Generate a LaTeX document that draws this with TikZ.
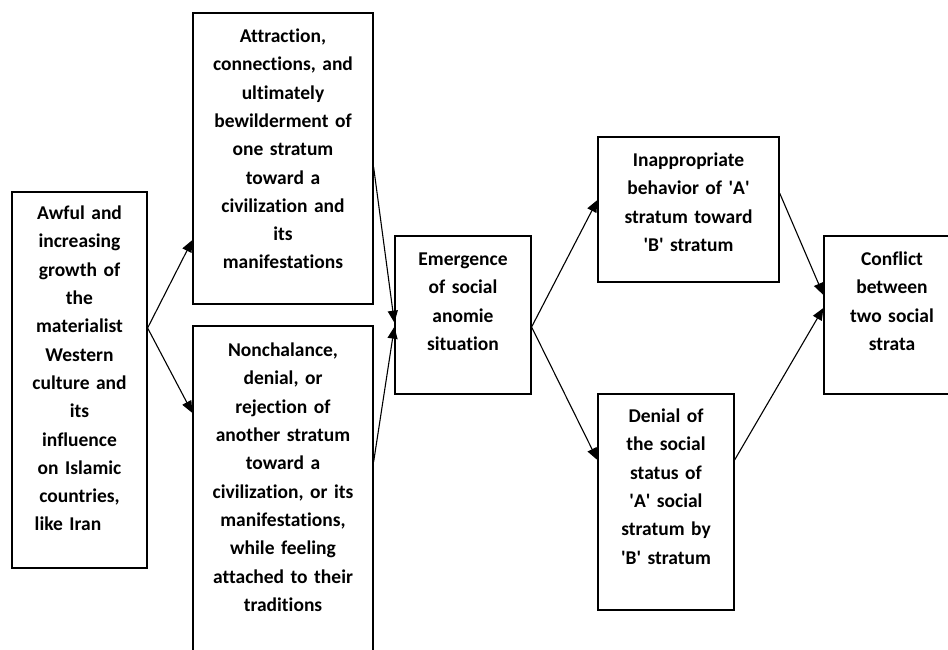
\documentclass[tikz,border=0pt]{standalone}
\usepackage{fontspec}
\setmainfont{Carlito}[Ligatures={TeX,NoCommon}]
\usetikzlibrary{arrows.meta}
\begin{document}
\begin{tikzpicture}[x=1pt,y=1pt,
  box/.style={draw, line width=1.2pt, inner sep=0pt},
  txt/.style={anchor=north, inner sep=0pt, align=center,
    font=\fontsize{19.5pt}{28.3pt}\selectfont\bfseries},
  arr/.style={line width=1.1pt, -{Triangle[length=12pt,width=10pt]}}]
\useasboundingbox (0,0) rectangle (948,650);
\clip (0,0) rectangle (948,650);
\fill[white] (0,0) rectangle (948,650);
% boxes
\node[box, minimum width=135pt, minimum height=376pt] (b1) at (79.5,270) {};
\node[box, minimum width=180pt, minimum height=291pt] (b2) at (283,491.5) {};
\node[box, minimum width=180pt, minimum height=334pt] (b3) at (283,157) {};
\node[box, minimum width=136pt, minimum height=158pt] (b4) at (463,335) {};
\node[box, minimum width=181pt, minimum height=145pt] (b5) at (688.5,440.5) {};
\node[box, minimum width=136pt, minimum height=216pt] (b6) at (666,148) {};
\node[box, minimum width=136pt, minimum height=158pt] (b7) at (892,335) {};
% texts
\node[txt, text width=135pt] (t1) at ([yshift=-8.2pt]b1.north)
  {\strut Awful and\\increasing\\growth of\\the\\materialist\\Western\\culture and\\its\\influence\\on Islamic\\countries,\\like Iran\rule{23pt}{0pt}};
\node[txt, text width=180pt] (t2) at ([yshift=-10.2pt]b2.north)
  {\strut Attraction,\\connections, and\\ultimately\\bewilderment of\\one stratum\\toward a\\civilization and\\its\\manifestations};
\node[txt, text width=180pt] (t3) at ([yshift=-11.2pt]b3.north)
  {\strut Nonchalance,\\denial, or\\rejection of\\another stratum\\toward a\\civilization, or its\\manifestations,\\while feeling\\attached to their\\traditions};
\node[txt, text width=136pt] (t4) at ([yshift=-10.2pt]b4.north)
  {\strut Emergence\\of social\\anomie\\situation};
\node[txt, text width=181pt] (t5) at ([yshift=-10.2pt]b5.north)
  {\strut Inappropriate\\behavior of \textquotesingle A\textquotesingle\\stratum toward\\\textquotesingle B\textquotesingle\ stratum};
\node[txt, text width=136pt] (t6) at ([yshift=-9.2pt]b6.north)
  {\strut Denial of\\the social\\status of\\\textquotesingle A\textquotesingle\ social\\stratum by\\\textquotesingle B\textquotesingle\ stratum};
\node[txt, text width=136pt] (t7) at ([yshift=-10.2pt]b7.north)
  {\strut Conflict\\between\\two social\\strata};
% connectors
\draw[arr] ([yshift=52pt]b1.east) -- ([yshift=-81.5pt]b2.west);
\draw[arr] ([yshift=52pt]b1.east) -- ([yshift=80pt]b3.west);
\draw[arr] ([yshift=-8.5pt]b2.east) -- ([yshift=-7.7pt]b4.west);
\draw[arr] ([yshift=31pt]b3.east) -- ([yshift=-11.7pt]b4.west);
\draw[arr] ([yshift=-12pt]b4.east) -- ([yshift=9.5pt]b5.west);
\draw[arr] ([yshift=-12pt]b4.east) -- ([yshift=42pt]b6.west);
\draw[arr] ([yshift=16.5pt]b5.east) -- ([yshift=20pt]b7.west);
\draw[arr] ([yshift=42pt]b6.east) -- ([yshift=7pt]b7.west);
\end{tikzpicture}
\end{document}
